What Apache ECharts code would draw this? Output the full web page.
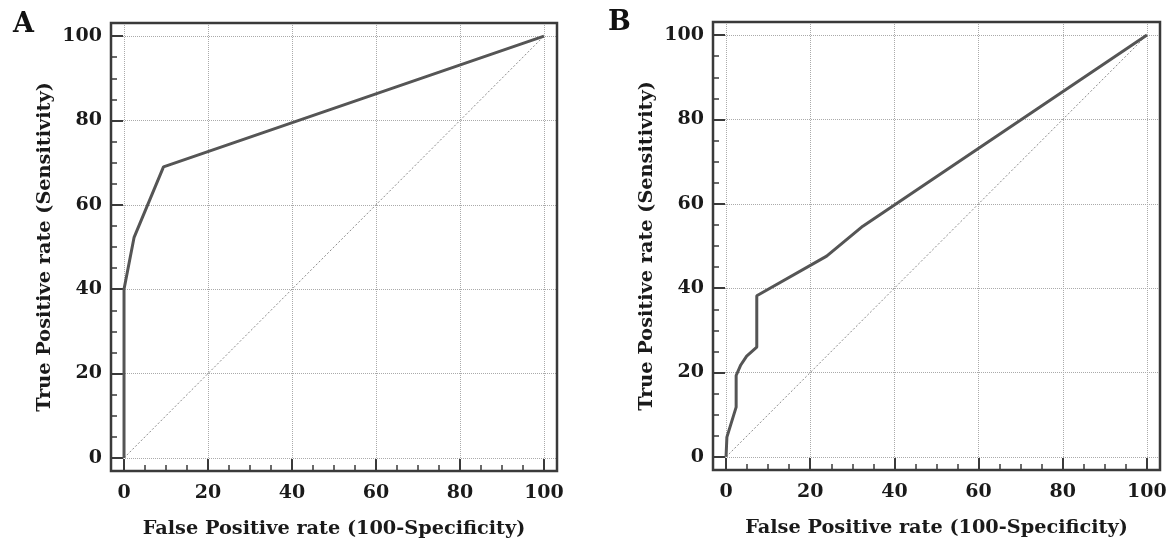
<!DOCTYPE html>
<html>
<head>
<meta charset="utf-8">
<script src="https://cdn.jsdelivr.net/npm/echarts@6/dist/echarts.min.js"></script>
<style>html,body{margin:0;padding:0;background:#fff}#c{width:1174px;height:544px}</style>
</head>
<body>
<div id="c"></div>
<script>
// ---- data ----
const panelLetters = ['A', 'B'];
const xTitle = 'False Positive rate (100-Specificity)';
const yTitle = 'True Positive rate (Sensitivity)';
const majorTicks = [0, 20, 40, 60, 80, 100];
const minorTicks = [0, 5, 10, 15, 20, 25, 30, 35, 40, 45, 50, 55, 60, 65, 70, 75, 80, 85, 90, 95, 100];
const rocA_x = [0, 0, 2.4, 9.4, 100];
const rocA_y = [0, 40, 52.3, 69, 100];
const rocB_x = [0, 0.2, 2.4, 2.4, 3.5, 4.9, 7.3, 7.3, 23.9, 32.5, 100];
const rocB_y = [0, 4.7, 11.8, 19.3, 21.8, 23.9, 26, 38.2, 47.6, 54.7, 100];
const diag_x = [0, 100];
const diag_y = [0, 100];
// axis extent (frame sits slightly outside 0..100)
const axisMin = -3.1, axisMax = 103.1;

const zip = (xs, ys) => xs.map((x, i) => [x, ys[i]]);

const FONT = 'DejaVu Serif';
const DARK = '#3a3a3a';
const TXT = '#1a1a1a';
const grids = [
  { left: 111, right: 617, top: 23, bottom: 73, show: true, borderColor: DARK, borderWidth: 2.5, backgroundColor: 'transparent', z: 5 },
  { left: 713, right: 14, top: 22, bottom: 74, show: true, borderColor: DARK, borderWidth: 2.5, backgroundColor: 'transparent', z: 5 }
];

function mainAx(i, dim) {
  const isX = dim === 'x';
  return {
    gridIndex: i, type: 'value', min: axisMin, max: axisMax,
    position: isX ? 'bottom' : 'left',
    name: isX ? xTitle : yTitle, nameLocation: 'middle', nameGap: isX ? 48 : 57,
    nameTextStyle: { fontFamily: FONT, fontWeight: 'bold', fontSize: 19.3, color: TXT },
    axisLine: { show: false, onZero: false },
    axisTick: { show: true, inside: true, length: 12, customValues: majorTicks, lineStyle: { color: DARK, width: 2 } },
    axisLabel: { margin: isX ? 13 : 9, customValues: majorTicks, fontFamily: FONT, fontWeight: 'bold', fontSize: 19, color: TXT },
    splitLine: { show: true, lineStyle: { color: '#aaa', type: 'dotted', width: 1 } }
  };
}
function minorAx(i, dim) {
  const isX = dim === 'x';
  return {
    gridIndex: i, type: 'value', min: axisMin, max: axisMax,
    position: isX ? 'bottom' : 'left',
    axisLine: { show: false, onZero: false },
    axisTick: { show: true, inside: true, length: 6, customValues: minorTicks, lineStyle: { color: DARK, width: 1.5 } },
    axisLabel: { show: false },
    splitLine: { show: false }
  };
}

const chart = echarts.init(document.getElementById('c'), null, { renderer: 'canvas' });

chart.setOption({
  backgroundColor: '#fff',
  animation: false,
  title: [
    { text: panelLetters[0], left: 8, top: 6, textStyle: { fontFamily: FONT, fontWeight: 'bold', fontSize: 27, color: '#111' } },
    { text: panelLetters[1], left: 603, top: 4, textStyle: { fontFamily: FONT, fontWeight: 'bold', fontSize: 27, color: '#111' } }
  ],
  grid: grids,
  xAxis: [mainAx(0, 'x'), mainAx(1, 'x'), minorAx(0, 'x'), minorAx(1, 'x')],
  yAxis: [mainAx(0, 'y'), mainAx(1, 'y'), minorAx(0, 'y'), minorAx(1, 'y')],
  series: [
    { type: 'line', xAxisIndex: 0, yAxisIndex: 0, data: zip(diag_x, diag_y), showSymbol: false,
      lineStyle: { color: '#8c8c8c', width: 1, type: [2, 2] }, z: 2 },
    { type: 'line', xAxisIndex: 0, yAxisIndex: 0, data: zip(rocA_x, rocA_y), showSymbol: false,
      lineStyle: { color: '#555', width: 3 }, z: 3 },
    { type: 'line', xAxisIndex: 1, yAxisIndex: 1, data: zip(diag_x, diag_y), showSymbol: false,
      lineStyle: { color: '#8c8c8c', width: 1, type: [2, 2] }, z: 2 },
    { type: 'line', xAxisIndex: 1, yAxisIndex: 1, data: zip(rocB_x, rocB_y), showSymbol: false,
      lineStyle: { color: '#555', width: 3 }, z: 3 }
  ]
});
</script>
</body>
</html>
